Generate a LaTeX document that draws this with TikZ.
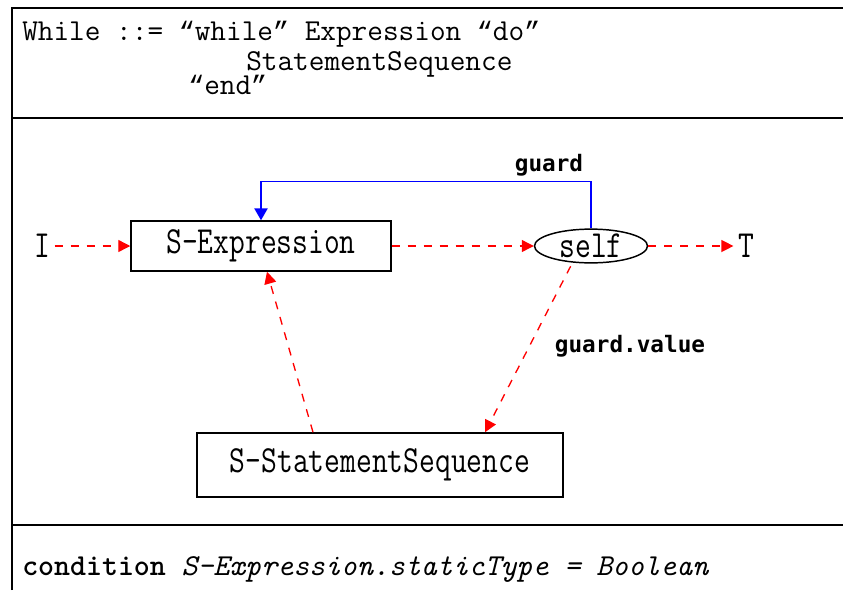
\documentclass[tikz,border=0pt]{standalone}
\usepackage{fontspec}
\usepackage{graphicx}
\usepackage{tikz}
\usetikzlibrary{positioning, arrows.meta, calc, shapes.geometric}
\newfontfamily\lblfont{DejaVu Sans Mono}
\newfontfamily\qfont{Liberation Mono}
\definecolor{flowred}{HTML}{FF0000}
\definecolor{guardblue}{HTML}{0000FF}
\newcommand{\dgtext}[1]{\scalebox{1}[1.25]{\ttfamily\fontsize{23}{27}\selectfont #1}}
\newcommand{\oq}{{\qfont\fontsize{20}{24}\selectfont “}}
\newcommand{\cq}{{\qfont\fontsize{20}{24}\selectfont ”}}

\tikzset{
  frameline/.style={line width=1.5pt, black},
  synbox/.style={draw, line width=1.1pt, inner sep=0pt},
  flow/.style={flowred, line width=1pt, dash pattern=on 6pt off 6pt,
    -{Triangle[length=9pt, width=9pt]}},
  guardline/.style={guardblue, line width=1.1pt,
    -{Triangle[length=9pt, width=10pt]}},
  edgelabel/.style={font=\lblfont\bfseries\fontsize{17}{20}\selectfont},
  hdr/.style={anchor=base west, inner sep=0pt, font=\ttfamily\fontsize{22.8}{27}\selectfont}
}

\begin{document}
\begin{tikzpicture}[x=0.75pt, y=-0.75pt]
  \useasboundingbox (0,0) rectangle (843,590);

  % table frame
  \draw[frameline] (12,590) -- (12,8) -- (843,8);
  \draw[frameline] (12,118) -- (843,118);
  \draw[frameline] (12,525) -- (843,525);

  % grammar rule
  \node[hdr] (rule1) at (22,40) {While ::= \oq while\cq{} Expression \oq do\cq};
  \node[hdr] (rule2) at (246,70) {StatementSequence};
  \node[hdr] (rule3) at (188,94) {\oq end\cq};

  % graph
  \node (I) at (42,246) {\dgtext{I}};
  \node[synbox, minimum width=195pt, minimum height=37.5pt] (sexp) at (261,246)
    {\dgtext{S-Expression}};
  \node[draw, ellipse, line width=1.1pt, inner sep=0pt, minimum width=84.75pt,
        minimum height=21pt] (self) at (591,246) {\dgtext{self}};
  \node (T) at (746,246) {\dgtext{T}};
  \node[synbox, minimum width=274.5pt, minimum height=48pt] (sseq) at (380,465)
    {\dgtext{S-StatementSequence}};

  \draw[flow] (I) -- (sexp);
  \draw[flow] (sexp) -- (self);
  \draw[flow] (self) -- (T);
  \draw[guardline] (self.north) -- ++(0,-47) -| (sexp.north);
  \node[edgelabel] (guardlbl) at (549,165) {guard};
  \draw[flow, shorten <=3pt] (self.222) -- ([xshift=78.75pt]sseq.north);
  \node[edgelabel] (valuelbl) at (630,346) {guard.value};
  \draw[flow] ([xshift=-50.25pt]sseq.north) -- ([xshift=4.5pt]sexp.south);

  % condition
  \node[hdr] (cond) at (22,575)
    {\textbf{condition} \textit{S-Expression.staticType = Boolean}};
\end{tikzpicture}
\end{document}
